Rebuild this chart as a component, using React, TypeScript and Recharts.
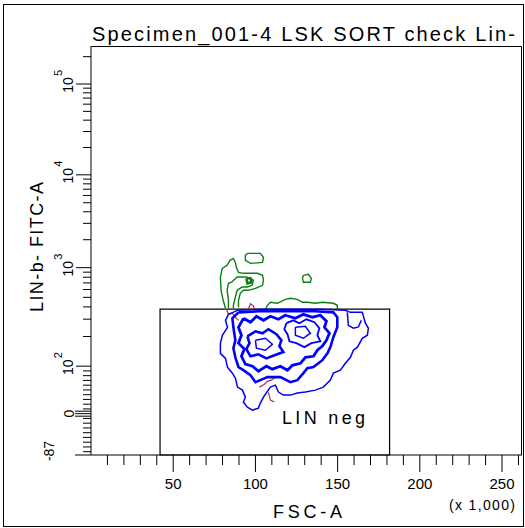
import React from "react";
import { ComposedChart, Line, XAxis, YAxis, ReferenceArea } from "recharts";

const TITLE = "Specimen_001-4 LSK SORT check Lin-";
const X_LABEL = "FSC-A";
const X_UNIT = "(x 1,000)";
const Y_LABEL = "LIN-b- FITC-A";
const GATE_LABEL = "LIN neg";

// FSC-A in thousands, FITC-A in raw units
const X_MAX = 262.144;
const Y_MIN = -87;
const Y_MAX = 262144;

const xTickValues = [10, 20, 30, 40, 50, 60, 70, 80, 90, 100, 110, 120, 130, 140, 150, 160, 170, 180, 190, 200, 210, 220, 230, 240, 250, 260];
const yLinearMinor = [-80, -70, -60, -50, -40, -30, -20, -10, 10, 20, 30, 40, 50, 60, 70, 80, 90];
const yDecades = [2, 3, 4, 5];
const yLogMinor = [
  200, 300, 400, 500, 600, 700, 800, 900,
  2000, 3000, 4000, 5000, 6000, 7000, 8000, 9000,
  20000, 30000, 40000, 50000, 60000, 70000, 80000, 90000,
  200000,
];

// LIN neg gate: FSC 42k..181.6k, FITC below 380
const gateX = [42, 181.6];
const gateYTop = 380;

// contours, [FSC (x1000), FITC]
const greenOuter = [
  [81.8, 387], [80.4, 466], [79.1, 589], [78.7, 797], [79.8, 984], [82.8, 1059], [84.5, 1198],
  [86.6, 1259], [87.8, 1140], [88.4, 1007], [89.7, 896], [92.7, 876], [97.0, 876], [101.3, 876],
  [104.3, 836], [104.9, 743], [104.3, 662], [100.0, 617], [95.7, 589], [92.7, 589], [90.8, 549],
  [89.7, 466], [89.7, 396],
];
const greenInner = [
  [83.6, 387], [83.6, 466], [82.8, 589], [83.6, 693], [85.8, 715], [86.6, 743], [88.9, 803],
  [94.3, 803], [97.0, 779], [98.8, 743], [98.0, 662], [95.0, 636], [91.9, 636], [88.9, 589],
  [87.8, 504], [86.6, 415], [86.6, 387],
];
const greenCore = [[94.5, 779], [97.0, 779], [97.6, 710], [95.1, 693], [94.5, 779]];
const greenTop = [
  [95.1, 1425], [103.0, 1425], [104.9, 1291], [104.3, 1140], [97.0, 1112], [93.9, 1198],
  [93.9, 1356], [95.1, 1425],
];
const greenSmall = [[129.2, 836], [132.2, 855], [134.0, 779], [133.4, 710], [129.2, 710], [128.6, 779], [129.2, 836]];
const greenRidge = [
  [106.1, 378], [107.3, 415], [109.1, 445], [113.4, 435], [118.2, 477], [121.3, 489], [125.5, 477],
  [128.6, 445], [131.6, 445], [136.5, 435], [140.7, 445], [147.4, 435], [149.8, 415], [149.8, 378],
];

const redA = [[82.4, 378], [83.6, 336], [86.0, 344], [88.4, 306], [89.7, 292]];
const redB = [[95.7, 378], [97.0, 430], [98.8, 410], [99.4, 378]];
const redC = [[102.4, 55.9], [105.5, 62], [107.3, 68], [109.7, 70.6], [112.2, 76.9]];
const redD = [[107.9, 45], [109.1, 28.6], [111.5, 24.4]];

const blueOuter = [
  [89.1, 369], [103.0, 378], [121.3, 378], [139.5, 378], [154.7, 369], [157.8, 352], [165.0, 352],
  [166.9, 273], [168.7, 243], [168.1, 206], [165.0, 192], [162.0, 156], [159.6, 145], [157.8, 123],
  [154.7, 107], [151.7, 91.6], [147.4, 85.3], [145.6, 70.6], [141.3, 55.9], [136.5, 49.6],
  [130.4, 45.4], [125.5, 43.3], [121.3, 39.1], [117.0, 39.1], [114.0, 45.4], [112.2, 60.1],
  [109.1, 55.9], [104.9, 34.9], [103.0, 22.3], [101.8, 11.7], [98.2, 7.5], [95.1, 13.8],
  [92.7, 24.4], [93.9, 34.9], [92.1, 49.6], [89.1, 55.9], [87.8, 74.8], [86.0, 85.3], [83.0, 98],
  [81.8, 120], [78.7, 135], [78.7, 171], [79.9, 206], [83.0, 248], [81.8, 292], [83.6, 336], [89.1, 369],
];
const blueLevel2 = [
  [89.7, 352], [103.0, 361], [121.3, 361], [136.5, 361], [147.4, 352], [149.8, 314], [149.8, 248],
  [147.4, 197], [145.6, 156], [143.8, 135], [140.7, 115], [135.3, 98], [131.6, 95.8], [129.2, 85.3],
  [125.5, 70.6], [121.3, 66.4], [115.2, 76.9], [107.3, 76.9], [103.0, 70.6], [100.0, 66.4],
  [97.0, 81.1], [92.7, 91.6], [89.7, 98], [87.8, 123], [86.6, 152], [87.8, 183], [86.6, 248],
  [86.0, 306], [89.7, 352],
];
const blueLevel3 = [
  [92.7, 306], [97.0, 279], [100.6, 321], [104.9, 292], [109.1, 321], [114.0, 299], [118.2, 329],
  [124.3, 306], [129.2, 336], [134.7, 314], [139.5, 329], [143.2, 286], [142.0, 248], [145.0, 216],
  [143.2, 183], [140.7, 160], [137.7, 145], [135.3, 126], [130.4, 123], [127.4, 107], [122.5, 102],
  [119.5, 91.6], [115.2, 100], [110.3, 93.7], [106.7, 100], [101.8, 89.5], [98.2, 100], [93.9, 105],
  [91.5, 126], [93.3, 149], [89.7, 171], [91.5, 206], [89.7, 248], [92.7, 306],
];
const blueLobeLeft = [
  [95.1, 201], [100.0, 226], [104.3, 216], [107.9, 237], [112.8, 211], [115.8, 183], [114.6, 160],
  [117.0, 139], [111.6, 129], [106.7, 120], [101.8, 132], [97.0, 126], [94.5, 149], [96.4, 171], [95.1, 201],
];
const blueLobeRight = [
  [118.8, 273], [123.1, 292], [126.7, 273], [131.0, 299], [135.9, 279], [138.9, 243], [137.7, 206],
  [139.5, 179], [134.0, 171], [129.8, 156], [124.9, 171], [120.7, 179], [119.5, 211], [117.6, 237], [118.8, 273],
];
const blueInnerLeft = [[100.0, 183], [106.1, 192], [110.3, 167], [106.1, 145], [100.6, 152], [100.0, 183]];
const blueInnerRight = [[124.3, 248], [130.4, 254], [133.4, 216], [129.2, 192], [124.3, 206], [124.3, 248]];
const blueNotch = [[155.9, 352], [156.5, 260], [159.6, 243], [162.6, 250], [164.4, 292]];

const GREEN = "#0a7d14";
const BLUE = "#0000ff";
const RED = "#a8324e";
const FONT = "'Liberation Sans', Arial, sans-serif";

// biexponential-ish display transform of the FITC axis
const tf = (v: number) => {
  if (v < 100) return ((v + 87) * 89) / 187;
  if (v < 1000) return 89 + 98.7 * Math.log10(v / 100);
  if (v < 10000) return 187.7 + 93 * Math.log10(v / 1000);
  return 280.7 + 91 * Math.log10(v / 10000);
};

type YT = { v: number; kind: "minor" | "decade" | "zero" | "min"; exp?: number };
const yTickList: YT[] = [
  { v: Y_MIN, kind: "min" },
  { v: 0, kind: "zero" },
  ...yLinearMinor.map((v) => ({ v, kind: "minor" as const })),
  ...yLogMinor.map((v) => ({ v, kind: "minor" as const })),
  ...yDecades.map((e) => ({ v: Math.pow(10, e), kind: "decade" as const, exp: e })),
];
const yTicks = yTickList.map((t) => tf(t.v));

const toPts = (arr: number[][]) => arr.map(([x, y]) => ({ x, y: tf(y) }));

const series = [
  { id: "g1", data: greenOuter, color: GREEN, w: 1.4 },
  { id: "g2", data: greenInner, color: GREEN, w: 1.4 },
  { id: "g3", data: greenCore, color: GREEN, w: 2.5 },
  { id: "g4", data: greenTop, color: GREEN, w: 1.4 },
  { id: "g5", data: greenSmall, color: GREEN, w: 1.4 },
  { id: "g6", data: greenRidge, color: GREEN, w: 1.4 },
  { id: "r1", data: redA, color: RED, w: 1.2 },
  { id: "r2", data: redB, color: RED, w: 1.2 },
  { id: "r3", data: redC, color: RED, w: 1.2 },
  { id: "r4", data: redD, color: RED, w: 1.2 },
  { id: "b1", data: blueOuter, color: BLUE, w: 1.5 },
  { id: "b2", data: blueLevel2, color: BLUE, w: 2.6 },
  { id: "b3", data: blueLevel3, color: BLUE, w: 2.8 },
  { id: "b4", data: blueLobeLeft, color: BLUE, w: 2.6 },
  { id: "b5", data: blueLobeRight, color: BLUE, w: 1.8 },
  { id: "b6", data: blueInnerLeft, color: BLUE, w: 1.5 },
  { id: "b7", data: blueInnerRight, color: BLUE, w: 1.5 },
  { id: "b8", data: blueNotch, color: BLUE, w: 1.5 },
];

const PLOT_LEFT = 91;
const PLOT_BOTTOM = 455;

function XTick(props: any) {
  const { x, payload } = props;
  const y = PLOT_BOTTOM;
  const v = payload.value;
  const major = v % 50 === 0;
  return (
    <g>
      <line x1={x} x2={x} y1={y} y2={y + (major ? 17 : 10)} stroke="#000" />
      {major && (
        <text x={x} y={y + 34} textAnchor="middle" fontSize={15} fontFamily={FONT} fill="#000">
          {v}
        </text>
      )}
    </g>
  );
}

function YTick(props: any) {
  const { y, payload } = props;
  const x = PLOT_LEFT;
  const t = yTickList.find((d) => Math.abs(tf(d.v) - payload.value) < 1e-6);
  if (!t) return null;
  if (t.kind === "minor") {
    return <line x1={x - 8} x2={x} y1={y} y2={y} stroke="#000" />;
  }
  if (t.kind === "min") {
    return (
      <g>
        <line x1={x - 16} x2={x} y1={y} y2={y} stroke="#000" />
        <text transform={`translate(${x - 37},${y}) rotate(-90)`} x={4} textAnchor="middle" fontSize={14} fontFamily={FONT} fill="#000">
          -87
        </text>
      </g>
    );
  }
  if (t.kind === "zero") {
    return (
      <g stroke="#000">
        <line x1={x - 16} x2={x} y1={y - 2.5} y2={y - 2.5} />
        <line x1={x - 16} x2={x} y1={y} y2={y} />
        <line x1={x - 16} x2={x} y1={y + 2.5} y2={y + 2.5} />
        <text transform={`translate(${x - 17},${y}) rotate(-90)`} textAnchor="middle" fontSize={14} fontFamily={FONT} fill="#000" stroke="none">
          0
        </text>
      </g>
    );
  }
  return (
    <g>
      <line x1={x - 15} x2={x} y1={y} y2={y} stroke="#000" />
      <g transform={`translate(${x - 18},${y}) rotate(-90)`} fontFamily={FONT} fill="#000">
        <text x={-1} textAnchor="middle" fontSize={14}>10</text>
        <text x={8} y={-11} fontSize={11}>{t.exp}</text>
      </g>
    </g>
  );
}

export default function App() {
  const W = 525;
  const H = 528;
  return (
    <div style={{ position: "absolute", left: 0, top: 0, width: W, height: H, background: "#fff" }}>
      <ComposedChart width={W} height={H} margin={{ top: 46, right: 3, bottom: 33, left: 31 }}>
        <XAxis
          type="number"
          dataKey="x"
          domain={[0, X_MAX]}
          ticks={xTickValues}
          interval={0}
          allowDataOverflow
          height={40}
          tickSize={0}
          tickMargin={0}
          tickLine={false}
          axisLine={{ stroke: "#000" }}
          tick={<XTick />}
        />
        <YAxis
          type="number"
          dataKey="y"
          domain={[0, tf(Y_MAX)]}
          ticks={yTicks}
          interval={0}
          allowDataOverflow
          width={60}
          tickSize={0}
          tickMargin={0}
          tickLine={false}
          axisLine={{ stroke: "#000" }}
          tick={<YTick />}
        />
        {series.map((s) => (
          <Line
            key={s.id}
            data={toPts(s.data)}
            dataKey="y"
            type="linear"
            stroke={s.color}
            strokeWidth={s.w}
            dot={false}
            activeDot={false}
            isAnimationActive={false}
          />
        ))}
        <ReferenceArea
          x1={gateX[0]}
          x2={gateX[1]}
          y1={tf(Y_MIN)}
          y2={tf(gateYTop)}
          stroke="#000"
          strokeWidth={1.2}
          fill="none"
          fillOpacity={0}
        />
      </ComposedChart>
      <svg width={W} height={H} style={{ position: "absolute", left: 0, top: 0, pointerEvents: "none" }} fontFamily={FONT}>
        <rect x={3.5} y={4.5} width={520} height={522} fill="none" stroke="#000" />
        <polyline points="91.5,46.5 521.5,46.5 521.5,455" fill="none" stroke="#000" />
        <text x={92} y={41} fontSize={20} textLength={423} lengthAdjust="spacing" fill="#000">
          {TITLE}
        </text>
        <text x={273} y={518} fontSize={18} textLength={69} lengthAdjust="spacing" fill="#000">
          {X_LABEL}
        </text>
        <text x={449} y={510} fontSize={14} textLength={66} lengthAdjust="spacing" fill="#000">
          {X_UNIT}
        </text>
        <text
          transform="translate(43,247) rotate(-90)"
          x={-65}
          fontSize={18}
          textLength={130}
          lengthAdjust="spacing"
          fill="#000"
        >
          {Y_LABEL}
        </text>
        <text x={282} y={424} fontSize={18} textLength={83} lengthAdjust="spacing" fill="#000">
          {GATE_LABEL}
        </text>
      </svg>
    </div>
  );
}
